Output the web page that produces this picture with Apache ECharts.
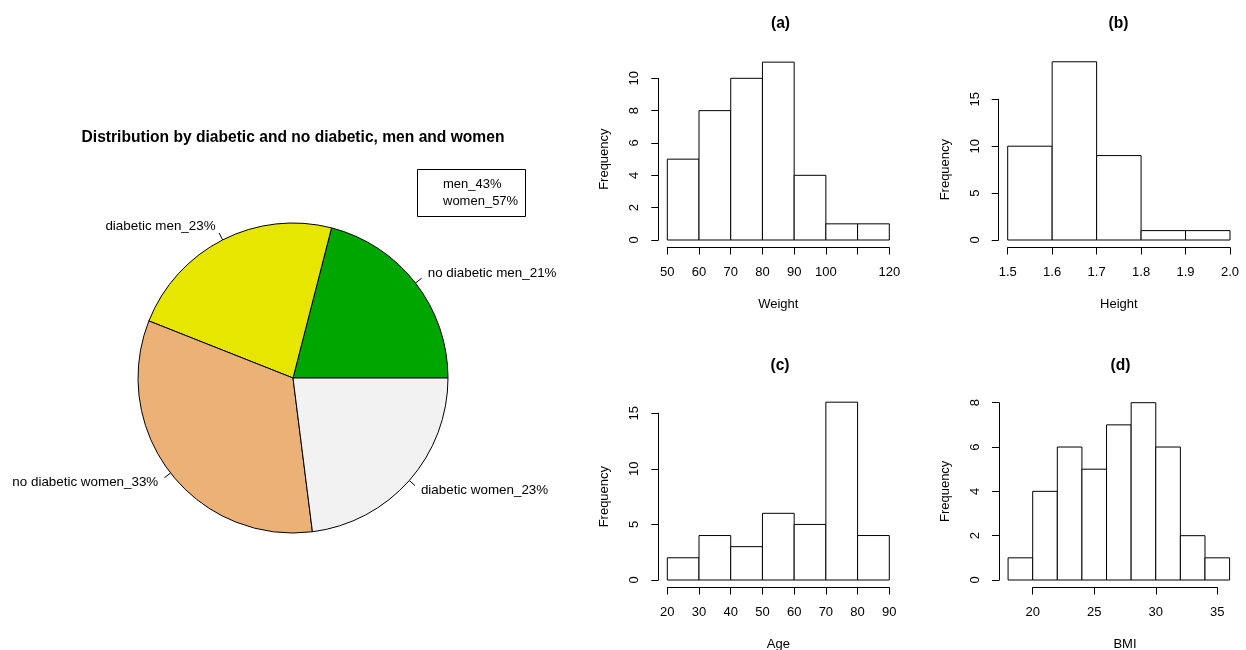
<!DOCTYPE html>
<html><head><meta charset="utf-8">
<script src="https://cdn.jsdelivr.net/npm/echarts@6/dist/echarts.min.js"></script>
<style>html,body{margin:0;padding:0;background:#fff}#c{width:1246px;height:650px}</style>
</head><body><div id="c"></div>
<script>
// ---------- data ----------
const pieTitle = 'Distribution by diabetic and no diabetic, men and women';
const pieCategories = ['no diabetic men_21%', 'diabetic men_23%', 'no diabetic women_33%', 'diabetic women_23%'];
const pieValues = [21, 23, 33, 23];
const pieColors = ['#00A600', '#E6E600', '#ECB176', '#F2F2F2'];
const legendLines = ['men_43%', 'women_57%'];

const weightBreaks = [50, 60, 70, 80, 90, 100, 110, 120];
const weightCounts = [5, 8, 10, 11, 4, 1, 1];
const weightTickLabels = [50, 60, 70, 80, 90, 100, 120];

const heightBreaks = [1.5, 1.6, 1.7, 1.8, 1.9, 2.0];
const heightCounts = [10, 19, 9, 1, 1];
const heightTickLabels = [1.5, 1.6, 1.7, 1.8, 1.9, 2.0];

const ageBreaks = [20, 30, 40, 50, 60, 70, 80, 90];
const ageCounts = [2, 4, 3, 6, 5, 16, 4];
const ageTickLabels = [20, 30, 40, 50, 60, 70, 80, 90];

const bmiBreaks = [18, 20, 22, 24, 26, 28, 30, 32, 34, 36];
const bmiCounts = [1, 4, 6, 5, 7, 8, 6, 2, 1];
const bmiTickLabels = [20, 25, 30, 35];

const panelTitles = ['(a)', '(b)', '(c)', '(d)'];
const xNames = ['Weight', 'Height', 'Age', 'BMI'];
const yName = 'Frequency';

// ---------- layout / style ----------
const FONT = '"Liberation Sans", Arial, Helvetica, sans-serif';
const panels = [
  {breaks: weightBreaks, counts: weightCounts, ticks: weightTickLabels, xmin: 50, xmax: 120, xint: 10, ymax: 10, yint: 2,
   grid: {left: 667.3, top: 78.3, width: 222, height: 161.7}, yOff: 9, dec: 0, titleX: 780.5, titleY: 15},
  {breaks: heightBreaks, counts: heightCounts, ticks: heightTickLabels, xmin: 1.5, xmax: 2.0, xint: 0.1, ymax: 15, yint: 5,
   grid: {left: 1007.7, top: 99.3, width: 222.3, height: 140.7}, yOff: 9, dec: 1, titleX: 1118.5, titleY: 15},
  {breaks: ageBreaks, counts: ageCounts, ticks: ageTickLabels, xmin: 20, xmax: 90, xint: 10, ymax: 15, yint: 5,
   grid: {left: 667.3, top: 413.3, width: 222, height: 166.7}, yOff: 9, dec: 0, titleX: 780, titleY: 357},
  {breaks: bmiBreaks, counts: bmiCounts, ticks: bmiTickLabels, xmin: 20, xmax: 35, xint: 5, ymax: 8, yint: 2,
   grid: {left: 1032.7, top: 402.7, width: 184.6, height: 177.3}, yOff: 33.7, dec: 0, titleX: 1120.5, titleY: 357}
];

const grids = [], xAxes = [], yAxes = [], series = [];
const titles = [];

titles.push({
  text: pieTitle, left: 293, top: 129, textAlign: 'center', padding: 0,
  textStyle: {fontFamily: FONT, fontSize: 15.6, fontWeight: 'bold', color: '#000', lineHeight: 18}
});
titles.push({
  text: legendLines.join('\n'), left: 417, top: 169, padding: [7, 8, 7, 26],
  borderWidth: 1, borderColor: '#000',
  textStyle: {fontFamily: FONT, fontSize: 13, fontWeight: 'normal', color: '#000', lineHeight: 17}
});

panels.forEach((p, i) => {
  const g = p.grid;
  grids.push({left: g.left, top: g.top, width: g.width, height: g.height, containLabel: false, outerBoundsMode: 'none'});
  titles.push({
    text: panelTitles[i], left: p.titleX, top: p.titleY, textAlign: 'center', padding: 0,
    textStyle: {fontFamily: FONT, fontSize: 15.6, fontWeight: 'bold', color: '#000', lineHeight: 18}
  });
  xAxes.push({
    type: 'value', gridIndex: i, min: p.xmin, max: p.xmax, interval: p.xint, position: 'bottom', offset: 7.5,
    axisLine: {show: true, onZero: false, lineStyle: {color: '#000', width: 1}},
    axisTick: {show: true, length: 7, lineStyle: {color: '#000', width: 1}},
    axisLabel: {show: true, margin: 18.5, color: '#000', fontSize: 13, fontFamily: FONT,
      customValues: p.ticks, showMinLabel: true, showMaxLabel: true, hideOverlap: false,
      formatter: v => v.toFixed(p.dec)},
    splitLine: {show: false},
    name: xNames[i], nameLocation: 'middle', nameGap: 50, nameMoveOverlap: false,
    nameTextStyle: {color: '#000', fontSize: 13, fontFamily: FONT}
  });
  yAxes.push({
    type: 'value', gridIndex: i, min: 0, max: p.ymax, interval: p.yint, position: 'left', offset: p.yOff,
    axisLine: {show: true, onZero: false, lineStyle: {color: '#000', width: 1}},
    axisTick: {show: true, length: 7, lineStyle: {color: '#000', width: 1}},
    axisLabel: {show: true, rotate: 90, margin: 17, color: '#000', fontSize: 13, fontFamily: FONT,
      showMinLabel: true, showMaxLabel: true, hideOverlap: false},
    splitLine: {show: false},
    name: yName, nameLocation: 'middle', nameGap: 47, nameMoveOverlap: false,
    nameTextStyle: {color: '#000', fontSize: 13, fontFamily: FONT}
  });
  const data = p.counts.map((c, k) => [p.breaks[k], p.breaks[k + 1], c]);
  series.push({
    type: 'custom', xAxisIndex: i, yAxisIndex: i, clip: false, silent: true,
    encode: {x: [0, 1], y: 2},
    data: data,
    renderItem: function (params, api) {
      const p0 = api.coord([api.value(0), 0]);
      const p1 = api.coord([api.value(1), api.value(2)]);
      return {
        type: 'rect',
        shape: {x: p0[0], y: p1[1], width: p1[0] - p0[0], height: p0[1] - p1[1]},
        style: {fill: '#fff', stroke: '#000', lineWidth: 1}
      };
    }
  });
});

// pie: slices + label text placed at 1.1 r
series.push({
  type: 'pie', center: [293, 378], radius: 155, startAngle: 0, clockwise: false,
  avoidLabelOverlap: false, silent: true, animation: false,
  data: pieCategories.map((n, i) => ({name: n, value: pieValues[i], itemStyle: {color: pieColors[i]}})),
  itemStyle: {borderColor: '#000', borderWidth: 1},
  label: {show: true, position: 'outside', formatter: '{b}', color: '#000', fontSize: 13.4, fontFamily: FONT, distanceToLabelLine: 0},
  labelLine: {show: true, length: 15.5, length2: 0, lineStyle: {color: 'rgba(0,0,0,0)', width: 0}},
  labelLayout: {hideOverlap: false},
  emphasis: {disabled: true}
});
// same pie, no fill: carries the short R-style tick marks from r to 1.05 r
series.push({
  type: 'pie', center: [293, 378], radius: 155, startAngle: 0, clockwise: false,
  avoidLabelOverlap: false, silent: true, animation: false,
  data: pieCategories.map((n, i) => ({name: n, value: pieValues[i]})),
  itemStyle: {color: 'rgba(0,0,0,0)', borderWidth: 0},
  label: {show: true, position: 'outside', formatter: ' ', color: 'rgba(0,0,0,0)', fontSize: 2, fontFamily: FONT},
  labelLine: {show: true, length: 7.75, length2: 0, smooth: false, lineStyle: {color: '#000', width: 1}},
  labelLayout: {hideOverlap: false},
  emphasis: {disabled: true}
});

const chart = echarts.init(document.getElementById('c'), null, {renderer: 'canvas'});
chart.setOption({
  backgroundColor: '#fff',
  animation: false,
  title: titles,
  grid: grids,
  xAxis: xAxes,
  yAxis: yAxes,
  series: series
});
</script>
</body></html>
